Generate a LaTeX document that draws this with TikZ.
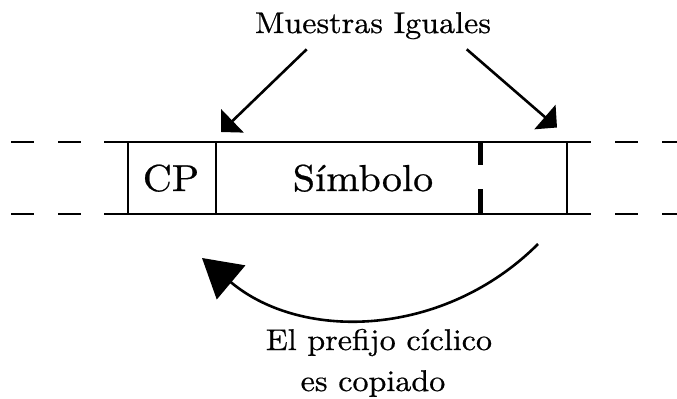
\documentclass[tikz,border=0pt]{standalone}
\usepackage{fontspec}
\newfontfamily\palfont{lmroman10-regular.otf}[FakeStretch=1.07, FakeBold=0.6]
\usetikzlibrary{arrows.meta}
\tikzset{
  boxline/.style={line width=2.3bp},
  dashline/.style={line width=2.3bp, dash pattern=on 23bp off 24bp},
  guardbar/.style={line width=5bp},
  labeltext/.style={inner sep=0pt, anchor=base, font=\palfont\fontsize{30bp}{36bp}\selectfont},
  cellttext/.style={inner sep=0pt, anchor=base, font=\palfont\fontsize{37.5bp}{44bp}\selectfont},
  pointer/.style={line width=2.6bp, -{Triangle[length=16bp, width=32bp]}},
  copyarrow/.style={line width=2.6bp, -{Triangle[length=38bp, width=44bp]}}
}
\begin{document}
\begin{tikzpicture}[x=1bp, y=1bp]
  \useasboundingbox (0,0) rectangle (677,398);
  % frame lines
  \draw[dashline] (11,256) -- (81,256);
  \draw[dashline] (11,184) -- (81,184);
  \draw[boxline] (104,256) -- (591,256);
  \draw[boxline] (104,184) -- (591,184);
  \draw[dashline] (615,256) -- (677,256);
  \draw[dashline] (615,184) -- (677,184);
  % vertical separators
  \draw[boxline] (128,256) -- (128,184);
  \draw[boxline] (216,256) -- (216,184);
  \draw[boxline] (567,256) -- (567,184);
  \draw[guardbar] (480,256) -- (480,233);
  \draw[guardbar] (480,209) -- (480,184);
  % texts
  \node[labeltext] (title) at (373,365) {Muestras Iguales};
  \node[cellttext] (cp) at (171,207) {CP};
  \node[cellttext] (sym) at (363,207) {Símbolo};
  \node[labeltext] (cap1) at (379,48) {El prefijo cíclico};
  \node[labeltext] (cap2) at (373,7) {es copiado};
  % arrows
  \coordinate (lstart) at (306.7,348.7);
  \coordinate (ltip) at (221,266);
  \coordinate (rstart) at (466.7,348.7);
  \coordinate (rtip) at (557,270.5);
  \coordinate (cstart) at (538,154);
  \coordinate (ctip) at (202,140);
  \draw[pointer] (lstart) -- (ltip);
  \draw[pointer] (rstart) -- (rtip);
  \draw[copyarrow] (cstart) to[out=-135, in=-40] (ctip);
\end{tikzpicture}
\end{document}
